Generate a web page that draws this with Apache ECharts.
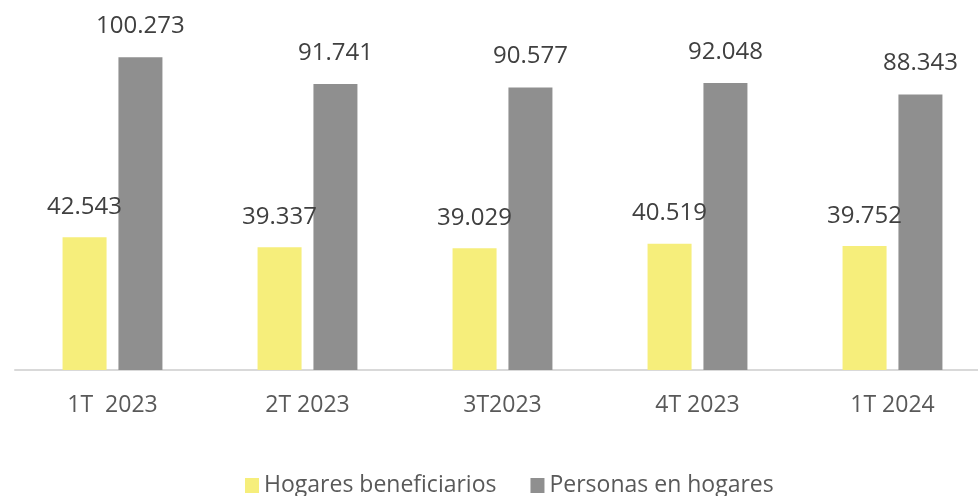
<!DOCTYPE html>
<html>
<head>
    <meta http-equiv="Content-Type" content="text/html; charset=utf-8">
    <title>Hogares y personas</title>
    <script src="https://cdn.jsdelivr.net/npm/echarts@6/dist/echarts.min.js"></script>
</head>
<body style="margin:0;overflow:hidden">
    <!-- plot runs past the right edge in the original, so the canvas is a bit wider than the window -->
    <div id="main" style="width: 990px;height:496px;"></div>
    <script type="text/javascript">
        var categories = ['1T  2023', '2T 2023', '3T2023', '4T 2023', '1T 2024'];
        var hogares = [42.543, 39.337, 39.029, 40.519, 39.752];
        var personas = [100.273, 91.741, 90.577, 92.048, 88.343];

        var font = '"Open Sans", sans-serif';
        var fmt = function (p) { return p.value.toFixed(3); };

        var chart = echarts.init(document.getElementById('main'));
        var option = {
            animation: false,
            textStyle: { fontFamily: font },
            grid: { left: 15, right: 0, top: 27, bottom: 126 },
            legend: {
                left: 240,
                top: 469,
                icon: 'rect',
                itemWidth: 14,
                itemHeight: 15,
                itemGap: 34,
                textStyle: { fontSize: 23, color: '#595959', fontFamily: font }
            },
            xAxis: {
                type: 'category',
                data: categories,
                axisLine: { lineStyle: { color: '#d9d9d9', width: 2 } },
                axisTick: { length: 10, lineStyle: { color: '#d9d9d9', width: 2 } },
                axisLabel: { margin: 24, fontSize: 23, color: '#595959', fontFamily: font }
            },
            yAxis: {
                type: 'value',
                min: 0,
                max: 110,
                show: false,
                splitLine: { show: false }
            },
            series: [
                {
                    name: 'Hogares beneficiarios',
                    type: 'bar',
                    data: hogares,
                    barWidth: 44,
                    barGap: '27%',
                    itemStyle: { color: '#F6EE7B' },
                    label: { show: true, position: 'top', distance: 18, fontSize: 24, color: '#404040', fontFamily: font, formatter: fmt }
                },
                {
                    name: 'Personas en hogares',
                    type: 'bar',
                    data: personas,
                    barWidth: 44,
                    itemStyle: { color: '#8F8F8F' },
                    label: { show: true, position: 'top', distance: 19, fontSize: 24, color: '#404040', fontFamily: font, formatter: fmt }
                }
            ]
        };
        chart.setOption(option);
    </script>
</body>
</html>
